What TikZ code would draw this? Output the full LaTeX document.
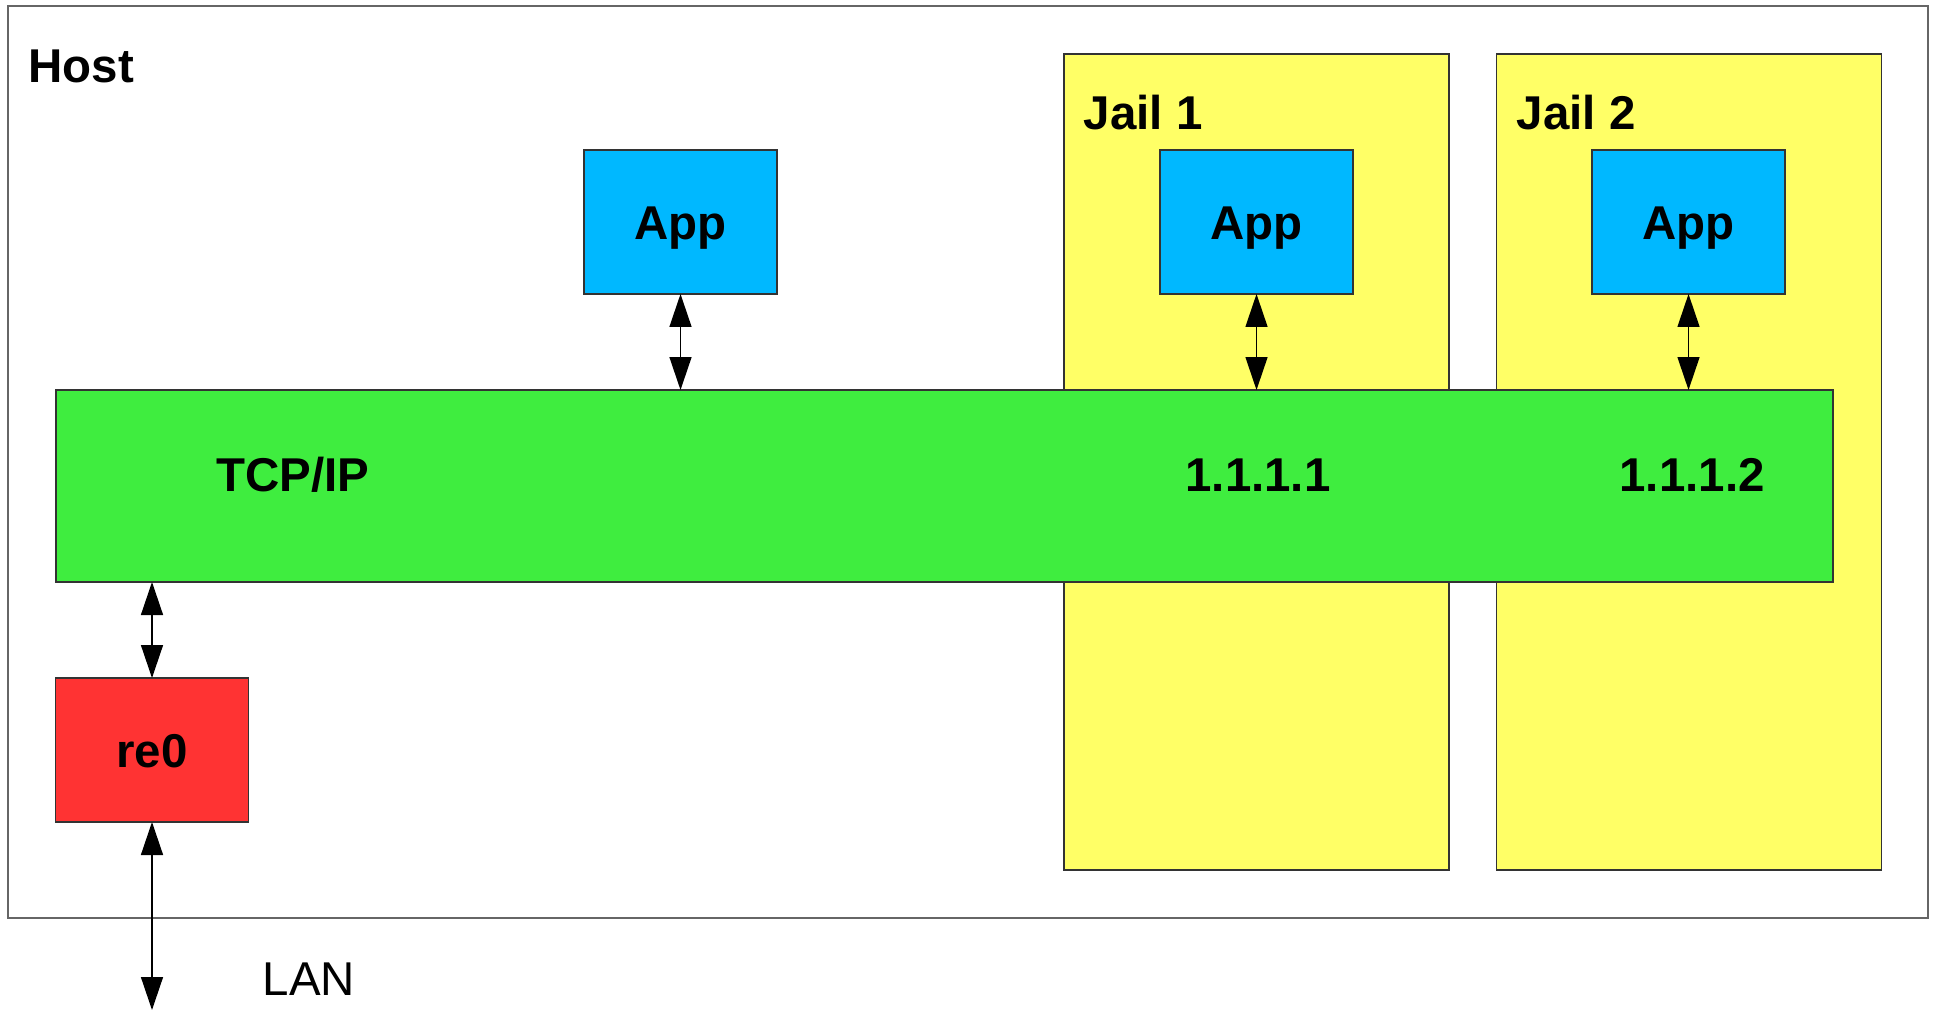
\documentclass[tikz,border=0pt]{standalone}
\usepackage{fontspec}
\setmainfont{Liberation Sans}
\usetikzlibrary{arrows.meta}

\definecolor{appblue}{RGB}{0,184,255}
\definecolor{stackgreen}{RGB}{63,237,63}
\definecolor{jailyellow}{RGB}{255,255,102}
\definecolor{nicred}{RGB}{255,51,51}

\tikzset{
    box/.style={draw=black!80, line width=0.4pt, inner sep=0pt, outer sep=0pt},
    appbox/.style={box, fill=appblue, minimum width=19.3mm, minimum height=14.4mm,
        font=\fontsize{13.5}{16}\selectfont\bfseries, text height=9.7pt, text depth=0pt},
    jailbox/.style={box, fill=jailyellow, minimum width=38.5mm, minimum height=81.6mm},
    title/.style={anchor=base west, inner sep=0pt, font=\fontsize{13.5}{16}\selectfont\bfseries},
    addr/.style={inner sep=0pt, font=\fontsize{13.5}{16}\selectfont\bfseries, text height=9.7pt, text depth=0pt},
    link/.style={line width=0.4pt, {Triangle[length=3.3mm,width=2.2mm]}-{Triangle[length=3.3mm,width=2.2mm]}}
}

\begin{document}
\begin{tikzpicture}[x=0.1mm, y=-0.1mm]
    \useasboundingbox (0, 0) rectangle (1939, 1010);
        % host frame and the two jails
        \node [box, draw=black!60, minimum width=192mm, minimum height=91.2mm] (host) at (968, 462) {};
        \node [title] (hostlbl) at (28, 83) {Host};
        \node [jailbox] (jail1) at (1256.5, 462) {};
        \node [jailbox] (jail2) at (1689, 462) {};
        \node [title] (jail1lbl) at (1083, 130) {Jail 1};
        \node [title] (jail2lbl) at (1516, 130) {Jail 2};
        % network stack
        \node [box, fill=stackgreen, minimum width=177.7mm, minimum height=19.2mm] (tcpip) at (944.5, 486) {};
        \node [addr] (stacklbl) at (293, 474) {TCP/IP};
        % applications
        \node [appbox] (app0) at (680.5, 222) {App};
        \node [appbox] (app1) at (1256.5, 222) {App};
        \node [appbox] (app2) at (1688.5, 222) {App};
        \node [addr] (ip1) at (1258, 474) {1.1.1.1};
        \node [addr] (ip2) at (1692, 474) {1.1.1.2};
        % interface
        \node [appbox, fill=nicred] (re0) at (152, 750) {re0};
        \coordinate (lan) at (152, 1010);
        \node [title, font=\fontsize{13.5}{16}\selectfont] (lanlbl) at (262, 995) {LAN};
        % links
        \draw[link] (app0) -- (app0 |- tcpip.north);
        \draw[link] (app1) -- (app1 |- tcpip.north);
        \draw[link] (app2) -- (app2 |- tcpip.north);
        \draw[link] (re0 |- tcpip.south) -- (re0);
        \draw[link] (re0) -- (lan);
    \end{tikzpicture}
\end{document}
